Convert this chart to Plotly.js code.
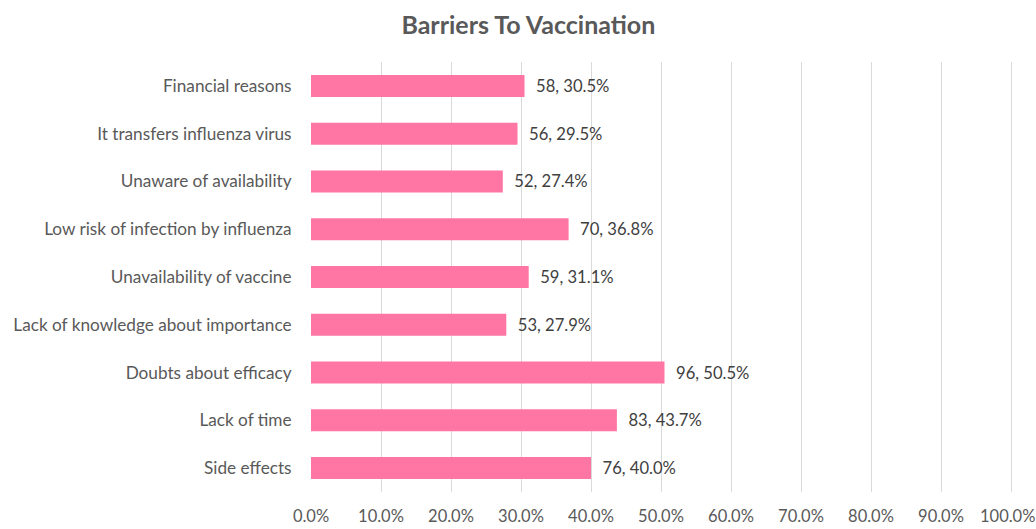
<!DOCTYPE html>
<html><head><meta charset="utf-8">
<script src="https://cdn.plot.ly/plotly-3.0.1.min.js"></script>
<style>html,body{margin:0;padding:0;background:#fff;}#chart{width:1036px;height:529px;}</style>
</head><body><div id="chart"></div>
<script>
const categories = ["Side effects","Lack of time","Doubts about efficacy","Lack of knowledge about importance","Unavailability of vaccine","Low risk of infection by influenza","Unaware of availability","It transfers influenza virus","Financial reasons"];
const counts = [76, 83, 96, 53, 59, 70, 52, 56, 58];
const percents = [40.0, 43.7, 50.5, 27.9, 31.1, 36.8, 27.4, 29.5, 30.5];
const xTicks = [0,10,20,30,40,50,60,70,80,90,100];
const xTickLabels = ["0.0%","10.0%","20.0%","30.0%","40.0%","50.0%","60.0%","70.0%","80.0%","90.0%","100.0%"];

const labels = counts.map((c,i)=> "\u00a0\u00a0" + c + ", " + percents[i].toFixed(1) + "%");
const font = "Lato, 'Open Sans', sans-serif";
const tickFont = {family: font, size: 16.5, color: "#595959"};
// Last tick label overflows the page edge, so Plotly drops it; draw it as an annotation at the same axis value.
const lastIdx = xTicks.length - 1;
const shownTickText = xTickLabels.map((t,i)=> i === lastIdx ? "" : t);
Plotly.newPlot("chart", [{
  type: "bar", orientation: "h",
  y: categories, x: percents,
  text: labels, textposition: "outside", cliponaxis: false,
  textfont: {family: font, size: 16.6, color: "#404040"},
  marker: {color: "#FF76A4"},
  width: 0.46, hoverinfo: "none"
}], {
  width: 1036, height: 529,
  margin: {l: 311, r: 11, t: 62, b: 37},
  paper_bgcolor: "#fff", plot_bgcolor: "#fff",
  title: {text: "<b>Barriers To Vaccination</b>", font: {family: font, size: 25, color: "#595959"}, x: 0.51, xanchor: "center", y: 0.953, yanchor: "middle"},
  xaxis: {range: [0, 102], tickvals: xTicks, ticktext: shownTickText, showgrid: true, gridcolor: "#D9D9D9", gridwidth: 1, zeroline: false, showline: false, ticks: "outside", ticklen: 9, tickcolor: "rgba(0,0,0,0)", tickfont: tickFont, fixedrange: true, automargin: false},
  yaxis: {type: "category", automargin: false, ticks: "outside", ticklen: 15, tickcolor: "rgba(0,0,0,0)", showline: false, showgrid: false, tickfont: {family: font, size: 17.2, color: "#595959"}, fixedrange: true},
  annotations: [{x: xTicks[lastIdx], xref: "x", y: 0, yref: "paper", text: xTickLabels[lastIdx], showarrow: false, xanchor: "center", yanchor: "top", yshift: -12, xshift: -4, font: tickFont}],
  showlegend: false,
  font: {family: font}
}, {displayModeBar: false, staticPlot: true});
</script></body></html>
